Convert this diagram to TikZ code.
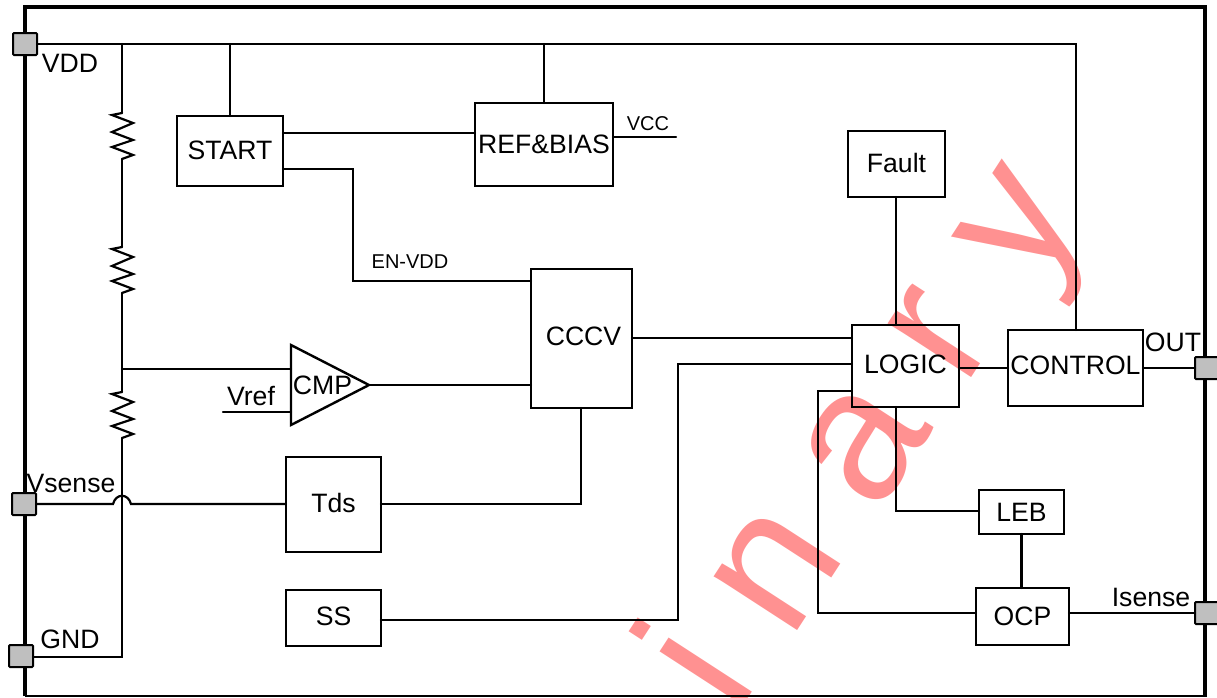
\documentclass[tikz,border=0pt]{standalone}
\usepackage{fontspec}
\setmainfont{Liberation Sans}
\usepackage{xcolor}
\usetikzlibrary{
  positioning,
  calc,
  shapes.geometric
}
\definecolor{icPin}{HTML}{BFBFBF}
\definecolor{icMark}{HTML}{FF9191}
\tikzset{
  block/.style={
    draw, line width=2.4pt, inner sep=0pt, outer sep=0pt,
    font=\fontsize{26.6}{30}\selectfont, align=center
  },
  wire/.style={line width=2.2pt, line cap=round, line join=miter},
  pin/.style={
    draw, fill=icPin, line width=2pt, rounded corners=1pt, inner sep=0pt, outer sep=0pt,
    minimum width=24pt, minimum height=22pt
  },
  amp/.style={line width=2.4pt, line join=miter},
  tag/.style={font=\fontsize{26.6}{30}\selectfont, inner sep=0pt},
  smalltag/.style={font=\fontsize{20}{24}\selectfont, inner sep=0pt},
  markletter/.style={
    text=icMark, font=\fontsize{188}{200}\selectfont, rotate=57, inner sep=0pt
  },
  resistor/.pic={
    \coordinate (-top) at (0,0);
    \coordinate (-bot) at (0,46);
    \draw[wire] (0,0) -- (-10,2) -- (11,10) -- (-10,19) -- (11,27) -- (-10,34) -- (11,42) -- (0,46);
  }
}
\begin{document}
\begin{tikzpicture}[x=1pt,y=-1pt]
  \useasboundingbox (0,0) rectangle (1217,697);
  \clip (0,0) rectangle (1217,697);
  % watermark goes under everything
  \node[markletter] (m1) at (691,662) {i};
  \node[markletter] (m2) at (777,570) {n};
  \node[markletter] (m3) at (864,445) {a};
  \node[markletter] (m4) at (939,335) {r};
  \node[markletter] (m5) at (1035,236) {y};
  % package outline
  \draw[line width=4pt] (25,696) -- (25,7) -- (1205,7) -- (1205,697);
  \draw[line width=2.4pt] (25,696) -- (1205,696);
  % blocks
  \node[block, minimum width=106pt, minimum height=70pt, text depth=2pt] (start) at (230,151) {START};
  \node[block, minimum width=138pt, minimum height=83pt, text depth=1pt] (ref) at (544,144.5) {REF\&BIAS};
  \node[block, minimum width=97pt, minimum height=66pt, text depth=3pt] (fault) at (896.5,164) {Fault};
  \node[block, minimum width=101pt, minimum height=139pt, text depth=4pt] (cccv) at (581.5,338.5) {\hspace{4pt}CCCV};
  \node[block, minimum width=107pt, minimum height=82pt, text depth=4pt] (logic) at (905.5,366) {LOGIC};
  \node[block, minimum width=135pt, minimum height=76pt, text depth=5pt] (control) at (1075.5,368) {CONTROL};
  \node[block, minimum width=85pt, minimum height=44pt] (leb) at (1021.5,512) {LEB};
  \node[block, minimum width=93pt, minimum height=57pt] (ocp) at (1022.5,616.5) {OCP};
  \node[block, minimum width=95pt, minimum height=95pt, text depth=3pt] (tds) at (333.5,504.5) {Tds};
  \node[block, minimum width=95pt, minimum height=56pt, text depth=3pt] (ss) at (333.5,618) {SS};
  % comparator
  \coordinate (cmpa) at (291,345);
  \coordinate (cmpb) at (291,425);
  \coordinate (cmpout) at (369,385);
  \draw[amp] (cmpa) -- (cmpout) -- (cmpb) -- cycle;
  \node[tag] (cmp) at (322.5,385) {CMP};
  % pins
  \node[pin] (vddpin) at (25,44) {};
  \node[pin] (sensepin) at (24,504) {};
  \node[pin] (gndpin) at (21,656) {};
  \node[pin] (outpin) at (1207,368) {};
  \node[pin] (ispin) at (1207,613) {};
  % divider
  \pic (ra) at (122,113) {resistor};
  \pic (rb) at (122,247) {resistor};
  \pic (rc) at (122,392) {resistor};
  \coordinate (railtap) at (122,44);
  \coordinate (cmptap) at (122,369);
  \coordinate (gndtap) at (122,657);
  \draw[wire] (vddpin.east) -- (1076,44) -- (control.north -| 1076,0);
  \draw[wire] (railtap) -- (ra-top);
  \draw[wire] (ra-bot) -- (rb-top);
  \draw[wire] (rb-bot) -- (rc-top);
  \draw[wire] (rc-bot) -- (gndtap) -- (gndpin.east |- gndtap);
  \draw[wire] (cmptap) -- (cmpa |- cmptap);
  \coordinate (vrefend) at (223,412);
  \draw[wire] (vrefend) -- (cmpa |- vrefend);
  \draw[wire] (cmpout) -- (cccv.west |- cmpout);
  % vsense hops over the divider
  \coordinate (hopa) at (113,504);
  \coordinate (hopb) at (131,504);
  \draw[wire] (sensepin.east) -- (hopa) .. controls (116,493) and (128,493) .. (hopb) -- (tds.west |- hopb);
  \draw[wire] (tds.east |- hopb) -| (cccv.south -| 581,0);
  % top left
  \draw[wire] (start.north) -- (start.north |- railtap);
  \draw[wire] (ref.north) -- (ref.north |- railtap);
  \draw[wire] (start.east |- 0,133) -- (ref.west |- 0,133);
  \coordinate (envdd) at (353,281);
  \draw[wire] (start.east |- 0,169) -| (envdd) -- (cccv.west |- envdd);
  \coordinate (vccend) at (676,137);
  \draw[wire] (ref.east |- vccend) -- (vccend);
  % right side
  \draw[wire] (cccv.east |- 0,338) -- (logic.west |- 0,338);
  \coordinate (ssturn) at (678,364);
  \draw[wire] (logic.west |- ssturn) -- (ssturn) |- (ss.east |- 0,620);
  \coordinate (ocpturn) at (818,391);
  \draw[wire] (logic.west |- ocpturn) -- (ocpturn) |- (ocp.west |- 0,613);
  \draw[wire] (logic.east |- 0,368) -- (control.west |- 0,368);
  \draw[wire] (fault.south -| 896,0) -- (logic.north -| 896,0);
  \draw[wire] (logic.south -| 896,0) |- (leb.west |- 0,511);
  \draw[wire] (leb.south) -- (leb.south |- ocp.north);
  \draw[wire] (ocp.east |- 0,613) -- (ispin.west |- 0,613);
  \draw[wire] (control.east |- 0,368) -- (outpin.west |- 0,368);
  % labels
  \node[tag] (vddtag) at (70,63) {VDD};
  \node[tag] (sensetag) at (71,483) {Vsense};
  \node[tag] (gndtag) at (70,639) {GND};
  \node[tag] (vreftag) at (251,396) {Vref};
  \node[tag] (outtag) at (1173,342) {OUT};
  \node[tag] (istag) at (1151,597) {Isense};
  \node[smalltag] (vcctag) at (648,124) {VCC};
  \node[smalltag] (entag) at (410,262) {EN-VDD};
\end{tikzpicture}
\end{document}
